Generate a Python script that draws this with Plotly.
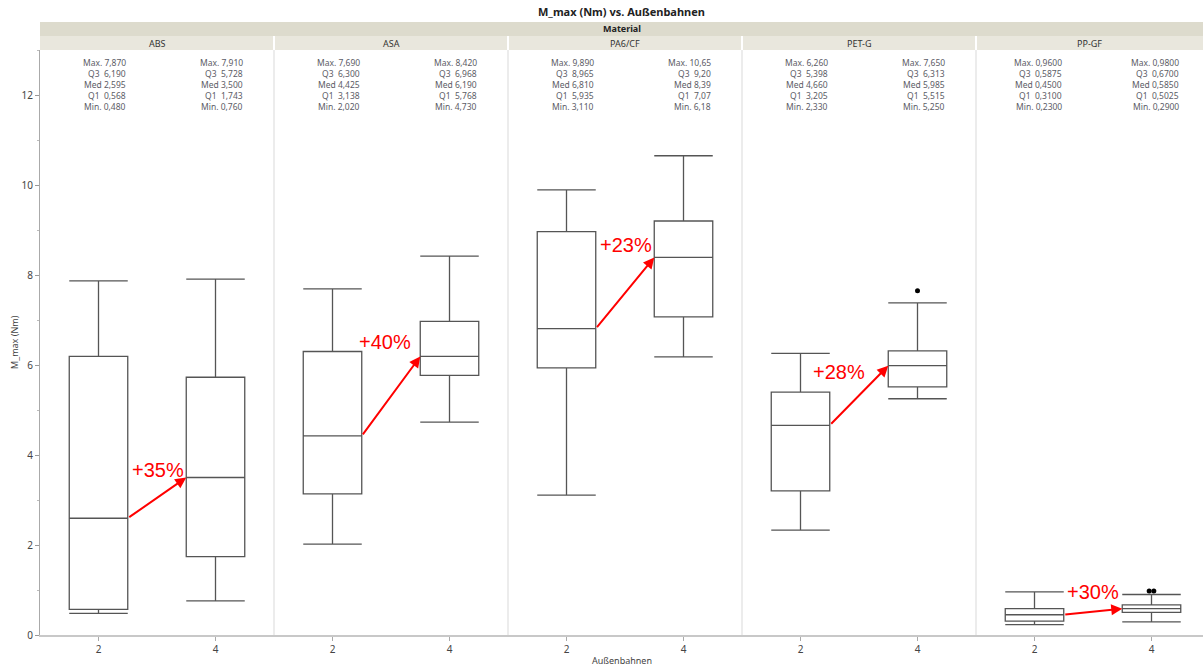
import math
import plotly.graph_objects as go
from plotly.subplots import make_subplots

# ---- data -------------------------------------------------------------
materials = ["ABS", "ASA", "PA6/CF", "PET-G", "PP-GF"]
groups = ["2", "4"]  # Außenbahnen

# Außenbahnen = 2
max_2 = [7.870, 7.690, 9.890, 6.260, 0.9600]
q3_2 = [6.190, 6.300, 8.965, 5.398, 0.5875]
med_2 = [2.595, 4.425, 6.810, 4.660, 0.4500]
q1_2 = [0.568, 3.138, 5.935, 3.205, 0.3100]
min_2 = [0.480, 2.020, 3.110, 2.330, 0.2300]

# Außenbahnen = 4
max_4 = [7.910, 8.420, 10.65, 7.650, 0.9800]
q3_4 = [5.728, 6.968, 9.20, 6.313, 0.6700]
med_4 = [3.500, 6.190, 8.39, 5.985, 0.5850]
q1_4 = [1.743, 5.768, 7.07, 5.515, 0.5025]
min_4 = [0.760, 4.730, 6.18, 5.250, 0.2900]

# whisker ends (largest value inside the 1.5*IQR fence) and outliers
upper_whisker_2 = [7.870, 7.690, 9.890, 6.260, 0.9600]
upper_whisker_4 = [7.910, 8.420, 10.65, 7.380, 0.9000]
outliers_4 = [[], [], [], [7.650], [0.980, 0.980]]

y_ticks = [0, 2, 4, 6, 8, 10, 12]

# ---- layout constants -----------------------------------------------
W, H = 1203, 666
ML, MT, MB = 40, 50, 31
PLOT_W = W - ML
PLOT_H = H - MT - MB
PANEL_PX = 234            # width of one material panel
UNIT_PX = PANEL_PX / 2.0  # px per category step
Y_MAX = 13.0

# percentage label placement: (y in data units, x shift in px from box edge)
label_place = [(3.67, 2), (6.52, -5), (8.67, 2), (5.84, -19), (0.96, 1)]

BOX_LINE = "#555555"
TEXT = "#444444"
STAT_TEXT = "#5c5c66"
FONT = "Noto Sans, Open Sans, sans-serif"


def py(p):
    """pixel row -> paper y"""
    return (H - MB - p) / PLOT_H


def px(p):
    """pixel column -> paper x"""
    return (p - ML) / PLOT_W


def fmt(v, ref):
    dec = max(0, 3 - math.floor(math.log10(ref)))
    return f"{v:.{dec}f}".replace(".", ",")


fig = make_subplots(rows=1, cols=5, shared_yaxes=True, horizontal_spacing=0)

annotations = []
shapes = []

for i, mat in enumerate(materials):
    col = i + 1
    xa = "x" if i == 0 else f"x{col}"
    ya = "y" if i == 0 else f"y{col}"

    stats = [
        (0, max_2[i], q3_2[i], med_2[i], q1_2[i], min_2[i], upper_whisker_2[i]),
        (1, max_4[i], q3_4[i], med_4[i], q1_4[i], min_4[i], upper_whisker_4[i]),
    ]
    for xpos, mx, q3, md, q1, mn, uw in stats:
        fig.add_trace(
            go.Box(
                x=[xpos], q1=[q1], median=[md], q3=[q3],
                lowerfence=[mn], upperfence=[uw],
                orientation="v", width=0.5, whiskerwidth=1,
                line=dict(color=BOX_LINE, width=1.3),
                fillcolor="rgba(0,0,0,0)", boxpoints=False,
                showlegend=False, hoverinfo="skip",
            ),
            row=1, col=col,
        )
        # summary statistics above each box
        rows = [
            f"Max. {fmt(mx, mx)}",
            f"Q3  {fmt(q3, mx)}",
            f"Med {fmt(md, mx)}",
            f"Q1  {fmt(q1, mx)}",
            f"Min. {fmt(mn, mx)}",
        ]
        for r, txt in enumerate(rows):
            annotations.append(dict(
                text=txt, xref=xa, yref="paper", x=xpos + 0.25,
                y=py(62 + 11.2 * r), xanchor="right", yanchor="middle",
                showarrow=False, font=dict(family=FONT, size=8.5, color=STAT_TEXT),
            ))

    # outliers of group 4
    pts = outliers_4[i]
    if pts:
        n = len(pts)
        xs = [1 + (k - (n - 1) / 2) * 0.04 for k in range(n)]
        fig.add_trace(
            go.Scatter(x=xs, y=pts, mode="markers",
                       marker=dict(color="black", size=5),
                       showlegend=False, hoverinfo="skip"),
            row=1, col=col,
        )

    # median-to-median arrow with relative change
    change = round((med_4[i] / med_2[i] - 1) * 100)
    annotations.append(dict(
        x=0.75, y=med_4[i], ax=0.25, ay=med_2[i],
        xref=xa, yref=ya, axref=xa, ayref=ya, text="",
        showarrow=True, arrowhead=2, arrowsize=1.1, arrowwidth=2,
        arrowcolor="#ff0000",
    ))
    ly, lshift = label_place[i]
    annotations.append(dict(
        text=f"+{change}%", x=0.25, y=ly, xref=xa, yref=ya,
        xanchor="left", yanchor="middle", xshift=lshift, showarrow=False,
        font=dict(family="Liberation Sans, Arial, sans-serif", size=20, color="#ff0000"),
    ))

    # panel domain
    x0 = i * PANEL_PX
    x1 = min((i + 1) * PANEL_PX, PLOT_W)
    rng_hi = -0.5 + (x1 - x0) / UNIT_PX
    fig.update_xaxes(
        domain=[x0 / PLOT_W, x1 / PLOT_W], range=[-0.5, rng_hi],
        tickvals=[0, 1], ticktext=groups, ticks="outside", ticklen=4,
        tickcolor="#aaaaaa", showline=True, linecolor="#c8c8c8", linewidth=2,
        showgrid=False, zeroline=False, fixedrange=True,
        tickfont=dict(family=FONT, size=10, color=TEXT),
        row=1, col=col,
    )

    # material header bar
    shapes.append(dict(
        type="rect", xref="paper", yref="paper",
        x0=x0 / PLOT_W, x1=x1 / PLOT_W, y0=py(50), y1=py(36),
        fillcolor="#e9e7dd", line=dict(width=0), layer="below",
    ))
    annotations.append(dict(
        text=mat, xref="paper", yref="paper", x=(x0 + x1) / 2 / PLOT_W,
        y=py(43), xanchor="center", yanchor="middle", showarrow=False,
        font=dict(family=FONT, size=9, color="#333333"),
    ))
    if i > 0:
        # panel separators
        shapes.append(dict(
            type="line", xref="paper", yref="paper",
            x0=x0 / PLOT_W, x1=x0 / PLOT_W, y0=0, y1=1,
            line=dict(color="#d9d9d9", width=1),
        ))
        shapes.append(dict(
            type="line", xref="paper", yref="paper",
            x0=x0 / PLOT_W, x1=x0 / PLOT_W, y0=py(50), y1=py(36),
            line=dict(color="white", width=2),
        ))

# "Material" group header
shapes.append(dict(
    type="rect", xref="paper", yref="paper", x0=0, x1=1, y0=py(36), y1=py(22),
    fillcolor="#dddbcd", line=dict(width=0), layer="below",
))
annotations.append(dict(
    text="<b>Material</b>", xref="paper", yref="paper", x=0.5, y=py(29),
    xanchor="center", yanchor="middle", showarrow=False,
    font=dict(family=FONT, size=9, color="#222222"),
))
# chart title
annotations.append(dict(
    text="<b>M_max (Nm) vs. Außenbahnen</b>", xref="paper", yref="paper",
    x=0.5, y=py(11), xanchor="center", yanchor="middle", showarrow=False,
    font=dict(family=FONT, size=11, color="#222222"),
))
# axis titles
annotations.append(dict(
    text="Außenbahnen", xref="paper", yref="paper", x=0.5, y=py(660),
    xanchor="center", yanchor="middle", showarrow=False,
    font=dict(family=FONT, size=9, color=TEXT),
))
annotations.append(dict(
    text="M_max (Nm)", xref="paper", yref="paper", x=px(14), y=py(342),
    xanchor="center", yanchor="middle", textangle=-90, showarrow=False,
    font=dict(family=FONT, size=9, color=TEXT),
))

fig.update_yaxes(
    range=[0, Y_MAX], showgrid=False, zeroline=False, fixedrange=True,
)
fig.update_yaxes(
    tickvals=y_ticks, ticks="outside", ticklen=4, tickcolor="#999999",
    showline=True, linecolor="#aaaaaa", linewidth=1,
    minor=dict(dtick=1, ticks="outside", ticklen=2, tickcolor="#bbbbbb"),
    tickfont=dict(family=FONT, size=10, color=TEXT),
    row=1, col=1,
)

fig.update_layout(
    width=W, height=H,
    margin=dict(l=ML, r=0, t=MT, b=MB),
    paper_bgcolor="white", plot_bgcolor="white",
    showlegend=False,
    annotations=annotations, shapes=shapes,
)

fig.write_html("out.html")
